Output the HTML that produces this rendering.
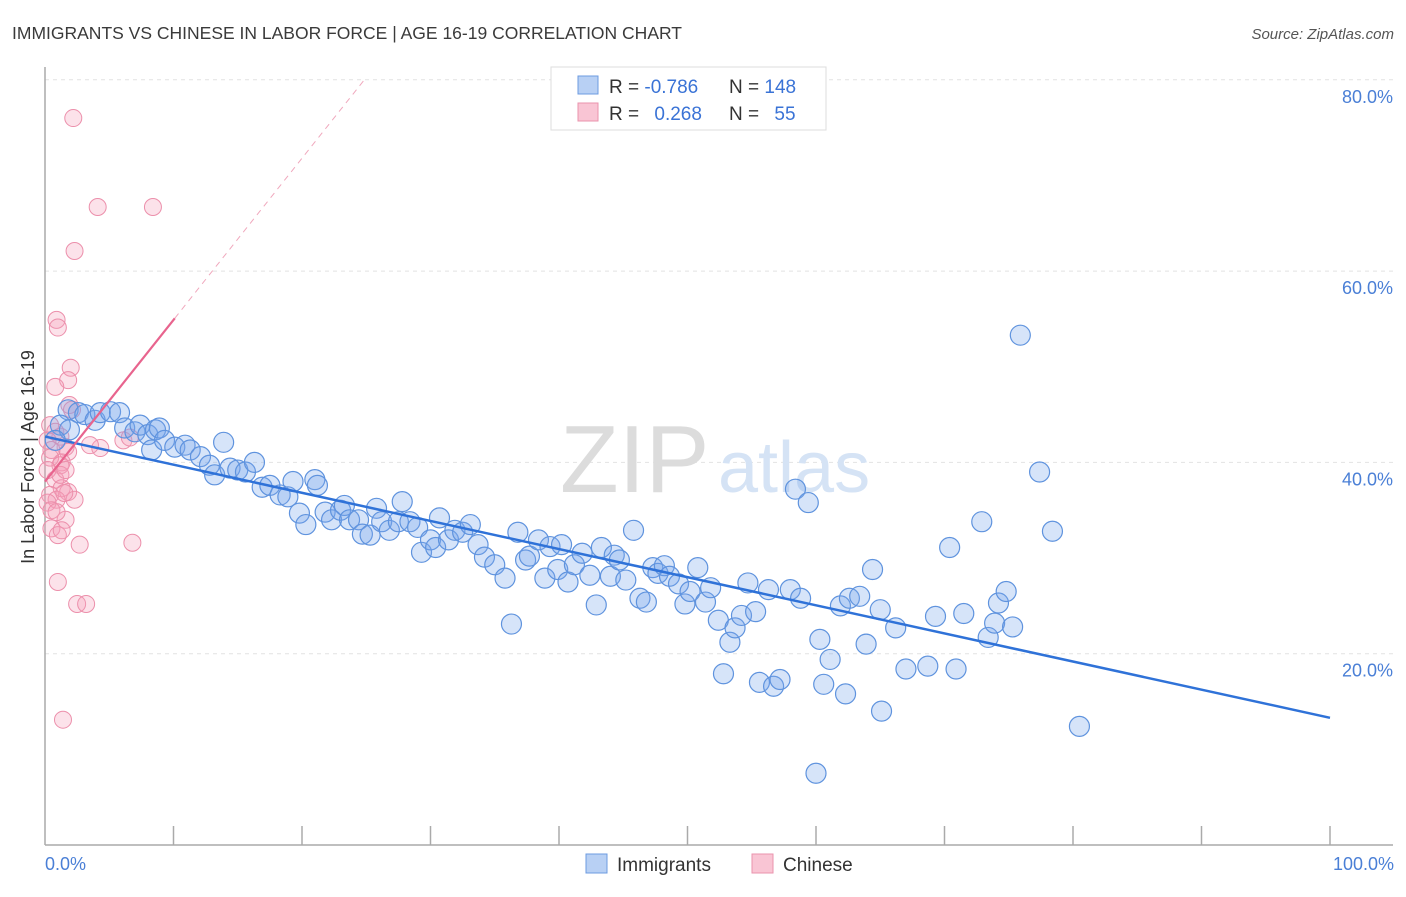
<!DOCTYPE html>
<html><head><meta charset="utf-8"><style>
body{margin:0;background:#fff;font-family:"Liberation Sans",sans-serif}
svg text{font-family:"Liberation Sans",sans-serif}
</style></head><body>
<svg id="chart" width="1406" height="892" viewBox="0 0 1406 892">
<text x="12" y="39" font-size="17.5" fill="#3a3a3a">IMMIGRANTS VS CHINESE IN LABOR FORCE | AGE 16-19 CORRELATION CHART</text>
<text x="1394" y="39" font-size="15" fill="#555" font-style="italic" text-anchor="end">Source: ZipAtlas.com</text>
<g id="grid"></g>
<text x="560" y="492" font-size="96" fill="#dcdcdc" font-family="Liberation Serif">ZIP</text>
<text x="718" y="492" font-size="72" fill="#d5e3f5">atlas</text>
<g id="axes"></g>
<g id="pinkPts"></g>
<g id="bluePts"></g>
<g id="trends"></g>
<text transform="translate(34,457) rotate(-90)" font-size="18" fill="#333" text-anchor="middle">In Labor Force | Age 16-19</text>
<text x="45" y="870" font-size="18" fill="#4a7fd6">0.0%</text>
<text x="1394" y="870" font-size="18" fill="#4a7fd6" text-anchor="end">100.0%</text>
<g>
<rect x="551" y="67" width="275" height="63" fill="#fff" stroke="#ddd"/>
<rect x="578" y="76" width="20" height="18" fill="#b8d0f4" stroke="#6c9be0"/>
<rect x="578" y="103" width="20" height="18" fill="#f9c5d4" stroke="#ea93ad"/>
<text x="609" y="93" font-size="19" fill="#333">R = <tspan fill="#3a73d6">-0.786</tspan></text>
<text x="729" y="93" font-size="19" fill="#333">N = <tspan fill="#3a73d6">148</tspan></text>
<text x="609" y="120" font-size="19" fill="#333">R = <tspan fill="#3a73d6" dx="10">0.268</tspan></text>
<text x="729" y="120" font-size="19" fill="#333">N = <tspan fill="#3a73d6" dx="10">55</tspan></text>
</g>
<g>
<rect x="586" y="854" width="21" height="19" fill="#b8d0f4" stroke="#6c9be0"/>
<text x="617" y="871" font-size="19" fill="#333">Immigrants</text>
<rect x="752" y="854" width="21" height="19" fill="#f9c5d4" stroke="#ea93ad"/>
<text x="783" y="871" font-size="19" fill="#333">Chinese</text>
</g>
</svg>
<script>
const yTicks=[20,40,60,80];
const yTickLabels=["20.0%","40.0%","60.0%","80.0%"];
const xTicks=[10,20,30,40,50,60,70,80,90,100];
const blueX=[1.8,2.6,3.1,3.9,4.3,5.1,5.8,1.2,1.9,0.8,6.2,7.0,7.4,8.0,8.6,8.9,8.3,9.3,10.1,10.9,11.3,12.1,12.8,13.2,13.9,14.4,15.0,15.6,16.3,16.9,17.5,18.3,18.9,19.3,19.8,20.3,21.0,21.2,21.8,22.3,23.0,23.3,23.7,24.4,24.7,25.3,25.8,26.2,26.8,27.5,27.8,28.4,29.0,29.3,30.0,30.4,30.7,31.4,31.9,32.5,33.1,33.7,34.2,35.0,35.8,36.3,36.8,37.4,37.7,38.4,38.9,39.3,39.9,40.2,40.7,41.2,41.8,42.4,42.9,43.3,44.0,44.3,44.7,45.2,45.8,46.3,46.8,47.3,47.7,48.2,48.6,49.3,49.8,50.2,50.8,51.4,51.8,52.4,52.8,53.3,53.7,54.2,54.7,55.3,55.6,56.3,56.7,57.2,58.0,58.4,58.8,59.4,60.0,60.3,60.6,61.1,61.9,62.3,62.6,63.4,63.9,64.4,65.0,65.1,66.2,67.0,68.7,69.3,70.4,70.9,71.5,72.9,73.4,73.9,74.2,74.8,75.3,75.9,77.4,78.4,80.5];
const blueY=[45.5,45.2,45.0,44.4,45.2,45.3,45.2,43.9,43.4,42.3,43.6,43.2,43.9,42.9,43.4,43.6,41.3,42.3,41.6,41.8,41.3,40.6,39.7,38.7,42.1,39.4,39.2,39.0,40.0,37.4,37.6,36.6,36.4,38.0,34.7,33.5,38.2,37.6,34.8,34.0,35.0,35.5,34.0,34.0,32.5,32.4,35.2,33.8,32.9,33.8,35.9,33.8,33.2,30.6,31.9,31.1,34.2,31.9,32.9,32.7,33.5,31.4,30.1,29.3,27.9,23.1,32.7,29.8,30.2,31.9,27.9,31.2,28.8,31.4,27.5,29.3,30.5,28.2,25.1,31.1,28.1,30.3,29.8,27.7,32.9,25.8,25.4,29.0,28.4,29.2,28.1,27.3,25.2,26.5,29.0,25.4,26.9,23.5,17.9,21.2,22.7,24.0,27.4,24.4,17.0,26.7,16.6,17.3,26.7,37.2,25.8,35.8,7.5,21.5,16.8,19.4,25.0,15.8,25.8,26.0,21.0,28.8,24.6,14.0,22.7,18.4,18.7,23.9,31.1,18.4,24.2,33.8,21.7,23.2,25.3,26.5,22.8,53.3,39.0,32.8,12.4];
const pinkX=[2.2,4.1,8.4,2.3,0.9,1.0,2.0,1.8,0.8,1.9,2.1,0.4,0.8,1.2,0.2,1.6,0.5,1.8,1.3,0.4,1.2,0.8,1.3,1.8,0.4,0.9,0.2,2.3,1.6,0.5,1.0,1.3,2.7,6.8,1.0,2.5,3.2,1.4,6.1,6.6,4.3,3.5,0.2,1.2,1.6,0.5,0.9,1.5];
const pinkY=[76.0,66.7,66.7,62.1,54.9,54.1,49.9,48.6,47.9,46.0,45.5,43.9,43.2,42.7,42.3,41.6,41.3,41.1,40.0,40.5,39.7,38.2,37.3,36.9,36.6,36.1,35.8,36.1,34.0,33.1,32.4,32.9,31.4,31.6,27.5,25.2,25.2,13.1,42.3,42.6,41.5,41.8,39.2,38.7,39.2,35.0,34.8,36.8];
const blueTrend=[42.7,13.3];
const pinkTrend=[38.0,1.69];
const pinkSolidEnd=10.1;

const X=v=>45+v*12.85;
const Y=v=>845-v*9.565;
const NS="http://www.w3.org/2000/svg";
function mk(tag,attrs,parent){const e=document.createElementNS(NS,tag);for(const k in attrs)e.setAttribute(k,attrs[k]);parent.appendChild(e);return e;}
const grid=document.getElementById('grid');
yTicks.forEach((t,i)=>{
  const l=mk('line',{x1:45,x2:1393,y1:Y(t),y2:Y(t),stroke:'#e2e2e2','stroke-dasharray':'4,4'},grid);
  
  
  const tx=mk('text',{x:1393,y:Y(t)+23,'font-size':18,fill:'#4a7fd6','text-anchor':'end'},grid);
  tx.textContent=yTickLabels[i];
  
  
});
const axes=document.getElementById('axes');
const ya=mk('line',{x1:45,x2:45,y1:67,y2:845,stroke:'#aaa','stroke-width':1.5},axes);


const xa=mk('line',{x1:45,x2:1393,y1:845,y2:845,stroke:'#aaa','stroke-width':1.5},axes);


xTicks.forEach(t=>{
  const l=mk('line',{x1:X(t),x2:X(t),y1:826,y2:845,stroke:'#aaa','stroke-width':1.5},axes);
  
  
});
const pg=document.getElementById('pinkPts');
pinkX.forEach((x,i)=>{
  const c=mk('circle',{cx:X(x),cy:Y(pinkY[i]),r:8.5,fill:'rgba(244,160,185,0.3)',stroke:'#ec8fab','stroke-width':1},pg);
  
  
});
const bg=document.getElementById('bluePts');
blueX.forEach((x,i)=>{
  const c=mk('circle',{cx:X(x),cy:Y(blueY[i]),r:10,fill:'rgba(120,165,235,0.3)',stroke:'#5f93de','stroke-width':1.2},bg);
  
  
});
const tg=document.getElementById('trends');
const bl=mk('line',{x1:X(0),y1:Y(blueTrend[0]),x2:X(100),y2:Y(blueTrend[1]),stroke:'#2f72d8','stroke-width':2.5},tg);


const pl=mk('line',{x1:X(0),y1:Y(pinkTrend[0]),x2:X(pinkSolidEnd),y2:Y(pinkTrend[0]+pinkTrend[1]*pinkSolidEnd),stroke:'#e8648e','stroke-width':2.2},tg);


const xe=(80-pinkTrend[0])/pinkTrend[1];
const pd=mk('line',{x1:X(pinkSolidEnd),y1:Y(pinkTrend[0]+pinkTrend[1]*pinkSolidEnd),x2:X(xe),y2:Y(80),stroke:'#f0a8bd','stroke-width':1,'stroke-dasharray':'6,5'},tg);


</script>
</body></html>
